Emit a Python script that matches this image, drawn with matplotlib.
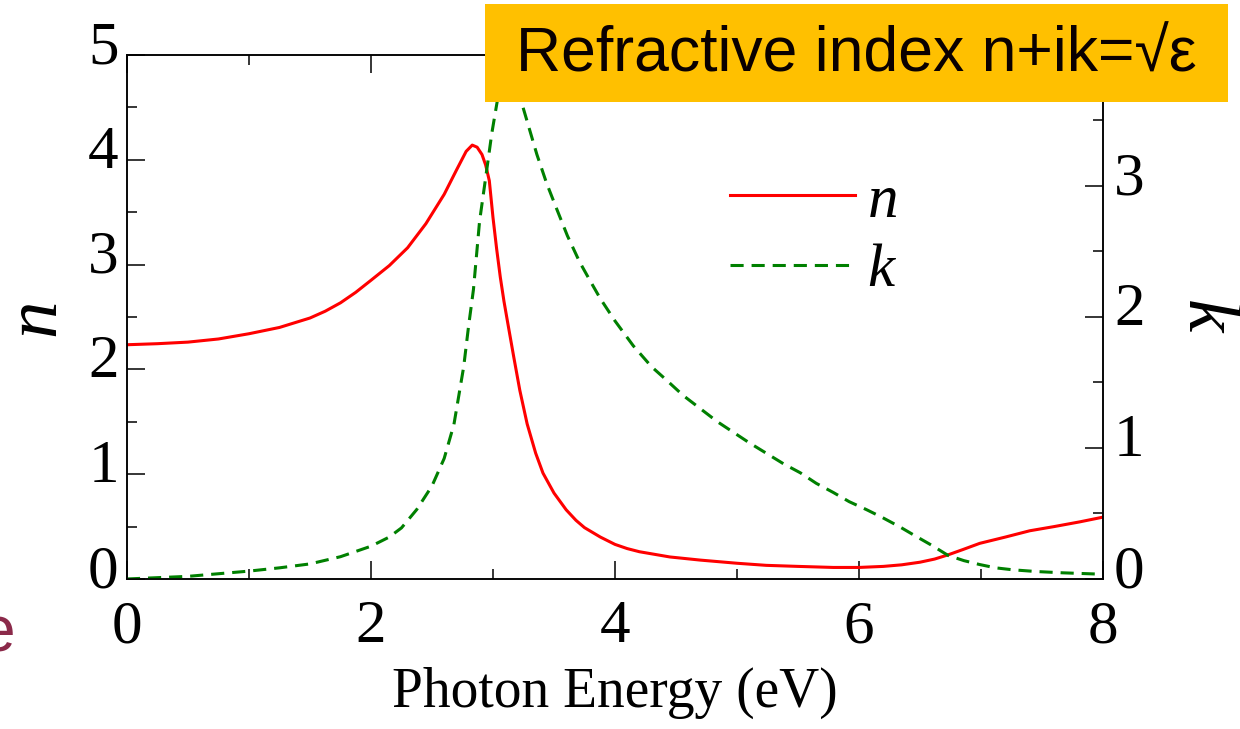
import matplotlib
matplotlib.use("Agg")
import matplotlib.pyplot as plt
from matplotlib.patches import Rectangle
from matplotlib.ticker import AutoMinorLocator
from matplotlib.transforms import ScaledTranslation

# --- Data ---
energy_n = [0.0, 0.25, 0.5, 0.75, 1.0, 1.25, 1.5, 1.625, 1.75, 1.875, 2.0, 2.15, 2.3,
            2.45, 2.6, 2.7, 2.78, 2.83, 2.87, 2.91, 2.94, 2.97, 3.0, 3.03, 3.06,
            3.09, 3.12, 3.17, 3.22, 3.28, 3.35, 3.41, 3.5, 3.6, 3.68, 3.75, 3.88,
            4.0, 4.1, 4.2, 4.45, 4.7, 5.0, 5.24, 5.5, 5.79, 6.0, 6.2, 6.35, 6.5,
            6.62, 6.73, 6.85, 6.99, 7.2, 7.4, 7.6, 7.81, 8.0]
n_vals = [2.235, 2.245, 2.26, 2.29, 2.34, 2.40, 2.49, 2.555, 2.635, 2.735, 2.85, 2.99, 3.16,
          3.39, 3.67, 3.90, 4.08, 4.14, 4.12, 4.05, 3.95, 3.80, 3.45, 3.15, 2.88,
          2.65, 2.45, 2.12, 1.80, 1.48, 1.20, 1.01, 0.82, 0.66, 0.56, 0.49, 0.40,
          0.33, 0.29, 0.26, 0.21, 0.18, 0.15, 0.13, 0.12, 0.11, 0.11, 0.12, 0.135, 0.16,
          0.19, 0.23, 0.28, 0.34, 0.40, 0.46, 0.50, 0.545, 0.59]

energy_k = [0.0, 0.25, 0.5, 0.75, 1.0, 1.25, 1.5, 1.75, 2.0, 2.15, 2.25, 2.375, 2.5,
            2.6, 2.68, 2.76, 2.8, 2.84, 2.89, 2.95, 2.99, 3.03, 3.08, 3.13, 3.18,
            3.24, 3.3, 3.36, 3.44, 3.52, 3.61, 3.71, 3.8, 3.88, 4.0, 4.15, 4.3, 4.42,
            4.56, 4.7, 4.84, 4.97, 5.1, 5.24, 5.38, 5.52, 5.65, 5.79, 5.92, 6.06,
            6.19, 6.34, 6.45, 6.6, 6.73, 6.86, 6.99, 7.12, 7.26, 7.45, 7.67, 8.0]
k_vals = [0.0, 0.01, 0.02, 0.04, 0.06, 0.085, 0.115, 0.17, 0.25, 0.32, 0.39, 0.53, 0.71,
          0.92, 1.18, 1.62, 1.93, 2.21, 2.73, 3.13, 3.40, 3.62, 3.88, 3.97, 3.88,
          3.62, 3.43, 3.24, 3.02, 2.83, 2.62, 2.42, 2.27, 2.14, 1.97, 1.78, 1.62, 1.52,
          1.40, 1.30, 1.20, 1.12, 1.04, 0.96, 0.88, 0.81, 0.73, 0.66, 0.59, 0.53,
          0.47, 0.395, 0.335, 0.255, 0.18, 0.14, 0.11, 0.085, 0.07, 0.057, 0.047, 0.036]

x_ticks = [0, 2, 4, 6, 8]
n_ticks = [0, 1, 2, 3, 4, 5]
k_ticks = [0, 1, 2, 3, 4]
k_tick_labels = ['0', '1', '2', '3', '']  # the "4" sits under the title box

TITLE = "Refractive index n+ik=\u221a\u03b5"

plt.rcParams['font.family'] = ['Liberation Serif', 'DejaVu Serif']

fig = plt.figure(figsize=(12.4, 7.29), dpi=100)
ax = fig.add_axes([0.1024, 0.2058, 0.7871, 0.7188])
ax2 = ax.twinx()

ln_n, = ax.plot(energy_n, n_vals, color='#ff0000', lw=2.2, label='n')
ln_k, = ax2.plot(energy_k, k_vals, color='#008000', lw=2.2,
                 ls=(0, (4.3, 2.6)), label='k')

ax.set_xlim(0, 8)
ax.set_ylim(0, 5)
ax2.set_ylim(0, 4)
ax.set_xticks(x_ticks)
ax.set_yticks(n_ticks)
ax2.set_yticks(k_ticks)
ax2.set_yticklabels(k_tick_labels)
ax.xaxis.set_minor_locator(AutoMinorLocator(2))
ax.yaxis.set_minor_locator(AutoMinorLocator(2))
ax2.yaxis.set_minor_locator(AutoMinorLocator(2))

for a in (ax, ax2):
    for sp in a.spines.values():
        sp.set_linewidth(1.1)
ax.tick_params(axis='both', which='major', direction='in', length=13, width=1.1,
               labelsize=44, top=True, right=False)
ax.tick_params(axis='both', which='minor', direction='in', length=7, width=1.1,
               top=True, right=False)
ax.tick_params(axis='x', pad=15)
ax.tick_params(axis='y', pad=6)
ax2.tick_params(axis='y', which='major', direction='in', length=13, width=1.1,
                labelsize=44, pad=8)
ax2.tick_params(axis='y', which='minor', direction='in', length=7, width=1.1)

# y tick labels sit a bit above their ticks in the original
up = ScaledTranslation(0, 9.5 / 72, fig.dpi_scale_trans)
for lab in ax.get_yticklabels() + ax2.get_yticklabels():
    lab.set_transform(lab.get_transform() + up)

ax.set_xlabel('Photon Energy (eV)', fontsize=40, labelpad=8)
ax.set_ylabel('n', fontsize=54, style='italic', ha='center', va='center')
ax.yaxis.set_label_coords(-0.093, 0.5)
ax2.set_ylabel('k', fontsize=54, style='italic', rotation=-90,
               ha='center', va='center')
ax2.yaxis.set_label_coords(1.104, 0.5)

ax2.legend(handles=[ln_n, ln_k], loc='upper left',
           bbox_to_anchor=(730 / 1240, 1 - 174 / 729), bbox_transform=fig.transFigure,
           frameon=False, prop=dict(family='Liberation Serif', style='italic', size=44),
           handlelength=2.05, handletextpad=0.2, labelspacing=0.22,
           borderpad=0, borderaxespad=0)

# orange title box over the top right
fig.add_artist(Rectangle((485 / 1240, 1 - 102 / 729), 743 / 1240, 98 / 729,
                         transform=fig.transFigure, facecolor='#ffc000',
                         edgecolor='none', zorder=5))
fig.text(856 / 1240, 1 - 55 / 729, TITLE, ha='center', va='center', fontsize=45,
         family=['Liberation Sans', 'DejaVu Sans'], color='#0a0000', zorder=6)

# cut-off letter from the slide at the left edge
fig.text(15 / 1240, 1 - 652 / 729, 'e', ha='right', va='baseline', fontsize=46,
         family='Liberation Sans', color='#8b2a4a')

fig.savefig('out.png', dpi=100)
